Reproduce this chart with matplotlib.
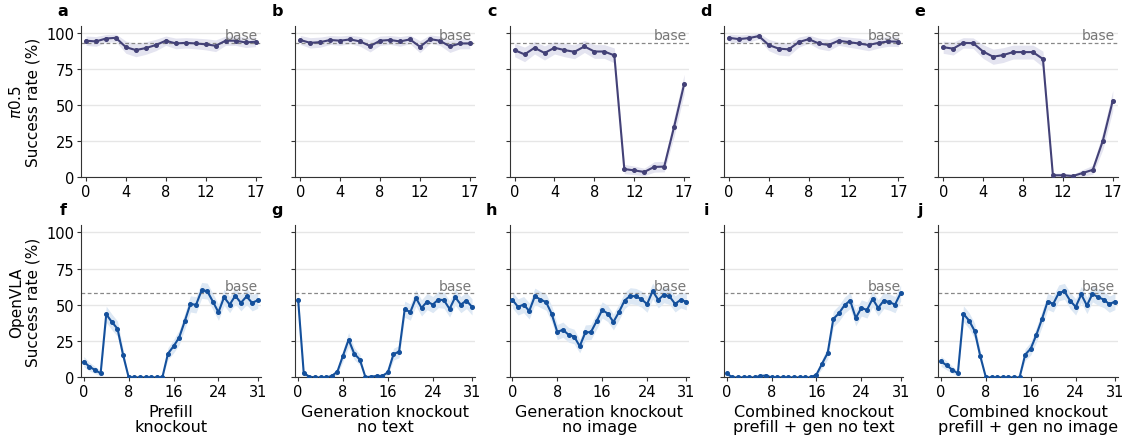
import numpy as np
import matplotlib
matplotlib.use("Agg")
import matplotlib.pyplot as plt
from matplotlib.transforms import blended_transform_factory

# ---------------- data ----------------
panel_letters_top = ["a", "b", "c", "d", "e"]
panel_letters_bot = ["f", "g", "h", "i", "j"]
xlabels = ["Prefill\nknockout", "Generation knockout\nno text", "Generation knockout\nno image",
           "Combined knockout\nprefill + gen no text", "Combined knockout\nprefill + gen no image"]
row_labels = ["$\\pi$0.5\nSuccess rate (%)", "OpenVLA\nSuccess rate (%)"]

layers_pi = list(range(18))
layers_vla = list(range(32))
xticks_pi = [0, 4, 8, 12, 17]
xticks_vla = [0, 8, 16, 24, 31]
yticks = [0, 25, 50, 75, 100]

base_pi = 93.0
base_vla = 58.0
n_trials_pi = 50
n_trials_vla = 80

pi_a = [94.5, 94, 96, 96.5, 90, 88, 89.4, 91.5, 94.5, 92.6, 93, 92.6, 92, 91, 94.5, 94.5, 93.3, 93.8]
pi_b = [95, 93, 93.5, 95, 94.5, 95.4, 94, 90.8, 94.5, 95, 94, 95.4, 90.3, 95.6, 94.5, 90.5, 92.6, 92.6]
pi_c = [88, 85, 89.6, 86, 89.6, 88, 86.8, 90.5, 87, 87, 84.3, 5.5, 4.6, 3.5, 7, 7.2, 35, 64.4]
pi_d = [96.5, 95.6, 96.3, 97.7, 91.5, 89, 88.5, 93.5, 95.6, 92.6, 91.5, 94.5, 93.5, 92.6, 91.5, 93, 94, 93.8]
pi_e = [90, 89, 93, 92.8, 87, 83.4, 84.5, 86.6, 86.6, 86.6, 81.8, 1.2, 1.2, 0.7, 2.8, 5, 25, 52.9]

vla_f = [10.9, 7.4, 5.1, 2.8, 43.5, 38.2, 33.6, 15.5, 0, 0, 0, 0, 0, 0, 0, 16.4,
         21.5, 27.5, 38.8, 50.7, 50, 60, 59.5, 52.3, 44.9, 55.3, 50.2, 56.3, 51.4, 55.8, 51.4, 53.2]
vla_g = [53.7, 3, 0.5, 0, 0, 0, 1, 4, 15, 26, 16.4, 12.3, 0.2, 0.5, 1, 1,
         3.5, 16, 17.8, 47, 45, 54.8, 47.9, 52.3, 50.2, 53.7, 53.2, 47.2, 55.3, 50.2, 53, 48.6]
vla_h = [53.5, 48.6, 50.2, 45.8, 56, 53.7, 51.9, 43.8, 31.3, 32.9, 29.4, 28.2, 21.5, 31, 31.3, 38.7,
         46.5, 44, 38.2, 45.1, 53, 56.3, 55.8, 54, 50.5, 59.5, 53.5, 57, 55.8, 50.7, 53.5, 52.1]
vla_i = [2.8, 0, 0, 0, 0, 0, 1, 1.3, 0, 0, 0, 0, 0, 0, 0, 0,
         2, 9.5, 16.9, 40.3, 44.2, 49.8, 53, 41, 47.9, 46.5, 54.2, 47.9, 53, 51.9, 50.2, 58.1]
vla_j = [11.1, 8.3, 5.3, 2.8, 43.8, 39.2, 32, 14.6, 0, 0, 0, 0, 0, 0, 0, 15.7,
         19.9, 29.4, 40.3, 52.3, 50.7, 58.3, 59.3, 53, 48.6, 57.2, 49.6, 57.6, 55.3, 53.7, 50.5, 52.3]

top_series = [pi_a, pi_b, pi_c, pi_d, pi_e]
bot_series = [vla_f, vla_g, vla_h, vla_i, vla_j]

# ---------------- style ----------------
col_pi = "#434177"
band_pi = "#e4e4f0"
col_vla = "#14509c"
band_vla = "#dde8f4"

plt.rcParams["font.family"] = ["DejaVu Sans"]
fig = plt.figure(figsize=(11.22, 4.39), dpi=100)

lefts = [0.0722 + i * 0.191 for i in range(5)]
width = 0.160
rows = [(0.5945, 0.345), (0.138, 0.347)]


def draw(ax, xs, ys, n, base, col, bandcol, xticks, xmax, letter):
    ys = np.asarray(ys, dtype=float)
    p = ys / 100.0
    se = np.sqrt(np.clip(p * (1 - p), 0, None) / n) * 100
    ax.fill_between(xs, ys - se, ys + se, color=bandcol, lw=0, zorder=1)
    ax.plot(xs, ys, color=col, lw=1.5, marker="o", ms=2.6, zorder=3)
    ax.axhline(base, color="#888888", ls=(0, (3, 2)), lw=0.9, zorder=2)
    tr = blended_transform_factory(ax.transAxes, ax.transData)
    ax.text(0.985, base + 0.5, "base", transform=tr, ha="right", va="bottom",
            color="#777777", fontsize=10, zorder=4)
    ax.set_xlim(-0.5, xmax + 0.5)
    ax.set_ylim(0, 105)
    ax.set_xticks(xticks)
    ax.set_yticks(yticks)
    ax.grid(axis="y", color="#e6e6e6", lw=1.0, zorder=0)
    ax.set_axisbelow(True)
    for s in ["top", "right"]:
        ax.spines[s].set_visible(False)
    ax.spines["left"].set_color("#333333")
    ax.spines["bottom"].set_color("#333333")
    ax.tick_params(labelsize=10.5, length=3, width=0.8, color="#333333", pad=2)
    ax.text(-0.1, 1.05, letter, transform=ax.transAxes, fontsize=11.5,
            fontweight="bold", ha="center", va="bottom")


for r, (bottom, height) in enumerate(rows):
    for c in range(5):
        ax = fig.add_axes([lefts[c], bottom, width, height])
        if r == 0:
            draw(ax, layers_pi, top_series[c], n_trials_pi, base_pi, col_pi, band_pi,
                 xticks_pi, 17, panel_letters_top[c])
        else:
            draw(ax, layers_vla, bot_series[c], n_trials_vla, base_vla, col_vla, band_vla,
                 xticks_vla, 31, panel_letters_bot[c])
            ax.set_xlabel(xlabels[c], fontsize=11.5, labelpad=3, linespacing=1.05)
        if c == 0:
            ax.set_ylabel(row_labels[r], fontsize=11, labelpad=4, linespacing=1.1)
        else:
            ax.tick_params(labelleft=False)

fig.savefig("out.png", dpi=100)
